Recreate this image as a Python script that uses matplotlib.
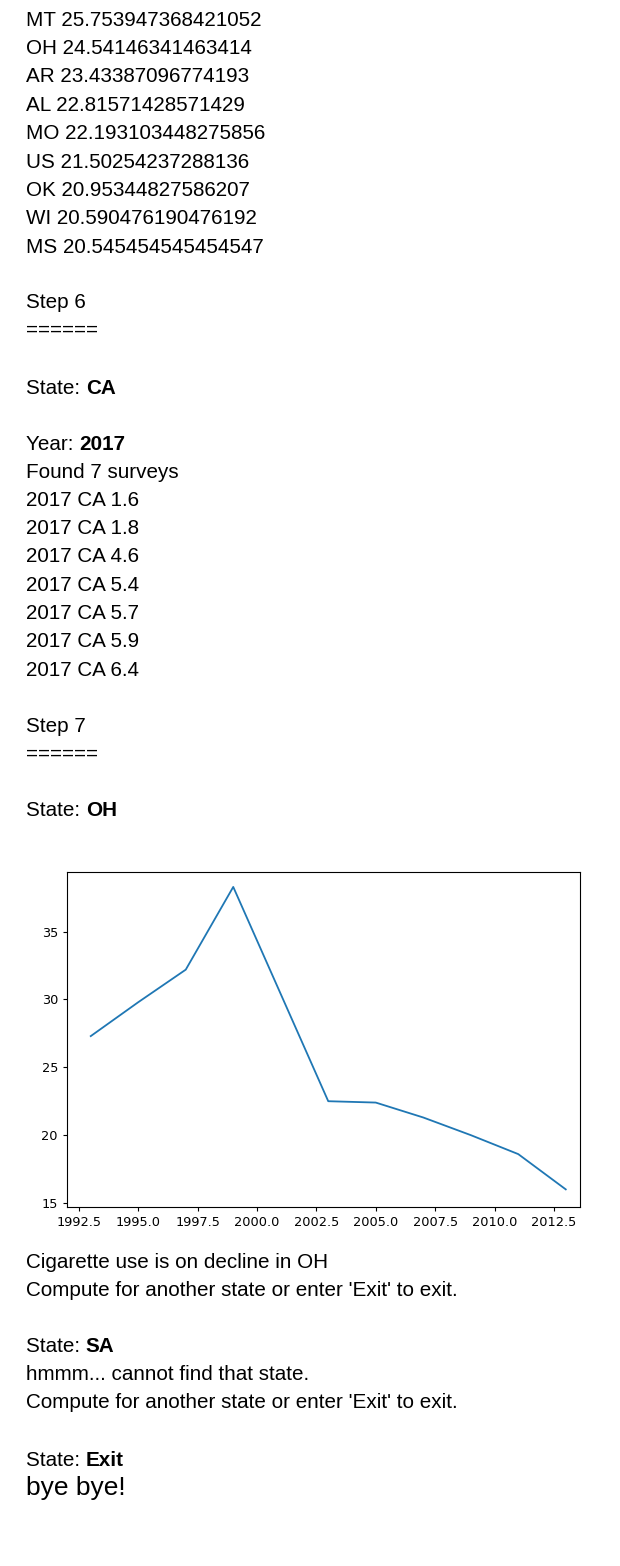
import matplotlib
matplotlib.use('Agg')
import matplotlib.pyplot as plt

# averages printed above the chart
top_states = ['MT', 'OH', 'AR', 'AL', 'MO', 'US', 'OK', 'WI', 'MS']
top_values = ['25.753947368421052', '24.54146341463414', '23.43387096774193',
              '22.81571428571429', '22.193103448275856', '21.50254237288136',
              '20.95344827586207', '20.590476190476192', '20.545454545454547']
ca_values = ['1.6', '1.8', '4.6', '5.4', '5.7', '5.9', '6.4']

# OH series
years = [1993, 1995, 1997, 1999, 2003, 2005, 2007, 2009, 2011, 2013]
oh_values = [27.3, 29.8, 32.2, 38.3, 22.5, 22.4, 21.3, 20.0, 18.6, 16.0]

W, H = 620, 1566
fig = plt.figure(figsize=(W / 100, H / 100), dpi=100)
renderer = fig.canvas.get_renderer()
FONT = 'Liberation Sans'
FS = 14.9


def line(y, text, bold=None, size=FS):
    t = fig.text(26 / W, 1 - y / H, text, fontsize=size, family=FONT, va='center')
    if bold:
        bb = t.get_window_extent(renderer=renderer)
        fig.text(bb.x1 / W, 1 - y / H, bold, fontsize=size, family=FONT,
                 fontweight='bold', va='center')


y = 20
for s, v in zip(top_states, top_values):
    line(y, f'{s} {v}')
    y += 28.4
line(303, 'Step 6')
line(330, '======')
line(388, 'State: ', 'CA')
line(444, 'Year: ', '2017')
line(472, 'Found 7 surveys')
y = 500
for v in ca_values:
    line(y, f'2017 CA {v}')
    y += 28.4
line(726, 'Step 7')
line(754, '======')
line(811, 'State: ', 'OH')
line(1262, "Cigarette use is on decline in OH")
line(1291, "Compute for another state or enter 'Exit' to exit.")
line(1347, 'State: ', 'SA')
line(1375, 'hmmm... cannot find that state.')
line(1403, "Compute for another state or enter 'Exit' to exit.")
line(1460, 'State: ', 'Exit')
line(1488, 'bye bye!', size=19)

ax = fig.add_axes([67 / W, 1 - 1207 / H, (580 - 67) / W, (1207 - 872) / H])
ax.plot(years, oh_values, color='#1f77b4', lw=1.3)
ax.set_xticks([1992.5, 1995, 1997.5, 2000, 2002.5, 2005, 2007.5, 2010, 2012.5])
ax.set_xticklabels([f'{v:.1f}' for v in ax.get_xticks()])
ax.set_yticks([15, 20, 25, 30, 35])
ax.tick_params(labelsize=9.3, length=3)
ax.set_xlim(1992.0, 2013.6)
ax.set_ylim(14.7, 39.4)

fig.savefig('out.png', dpi=100)
